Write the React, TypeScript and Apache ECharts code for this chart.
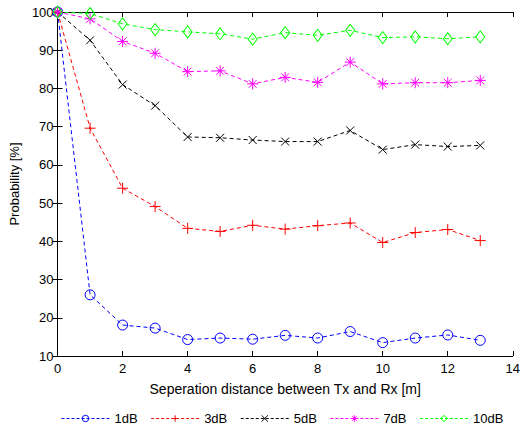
import React, { useEffect, useRef } from "react";
import * as echarts from "echarts";

const distances = [0, 1, 2, 3, 4, 5, 6, 7, 8, 9, 10, 11, 12, 13];
const seriesNames = ["1dB", "3dB", "5dB", "7dB", "10dB"];
const p1dB = [100, 26.0, 18.1, 17.3, 14.3, 14.7, 14.4, 15.4, 14.7, 16.4, 13.5, 14.7, 15.5, 14.1];
const p3dB = [100, 69.6, 53.9, 49.1, 43.4, 42.6, 44.2, 43.2, 44.1, 44.8, 39.7, 42.3, 43.1, 40.2];
const p5dB = [100, 92.6, 81.0, 75.5, 67.3, 67.1, 66.5, 66.1, 66.1, 69.0, 64.0, 65.3, 64.8, 65.1];
const p7dB = [100, 98.2, 92.3, 89.2, 84.4, 84.6, 81.2, 82.9, 81.6, 86.9, 81.2, 81.5, 81.5, 82.1];
const p10dB = [100, 99.6, 96.9, 95.4, 94.8, 94.3, 92.9, 94.6, 93.9, 95.2, 93.3, 93.5, 93.0, 93.5];

const colors = ["#0000ff", "#ff0000", "#000000", "#ff00ff", "#00ff00"];
const CIRCLE = "path://M10,5 A5,5 0 1 1 0,5 A5,5 0 1 1 10,5 Z";
const PLUS = "path://M5,0 L5,10 M0,5 L10,5";
const CROSS = "path://M1,1 L9,9 M9,1 L1,9";
const STAR = "path://M5,0 L5,10 M0,5 L10,5 M1.5,1.5 L8.5,8.5 M8.5,1.5 L1.5,8.5";
const DIAMOND = "path://M5,0 L10,7 L5,14 L0,7 Z";
const symbols = [CIRCLE, PLUS, CROSS, STAR, DIAMOND];
const symbolSizes: any[] = [10, 11, 8, 11, [9, 12]];

const FONT = "'Liberation Sans', Arial, sans-serif";

export default function App() {
  const ref = useRef<HTMLDivElement>(null);
  useEffect(() => {
    const chart = echarts.init(ref.current!, null, { renderer: "svg" });
    const all = [p1dB, p3dB, p5dB, p7dB, p10dB];
    const series = all.map((vals, i) => ({
      name: seriesNames[i],
      type: "line",
      data: distances.map((d, j) => [d, vals[j]]),
      symbol: symbols[i],
      symbolSize: symbolSizes[i],
      showAllSymbol: true,
      lineStyle: { color: colors[i], width: 1, type: [4, 3] },
      itemStyle: {
        color: i === 0 || i === 4 ? "rgba(255,255,255,0)" : colors[i],
        borderColor: colors[i],
        borderWidth: 1,
      },
      emphasis: { disabled: true },
    }));
    const tickStyle = { inside: true, length: 5, lineStyle: { color: "#000" } };
    chart.setOption({
      animation: false,
      backgroundColor: "#ffffff",
      textStyle: { fontFamily: FONT },
      grid: { left: 57, right: 6, top: 12, bottom: 69, containLabel: false },
      legend: {
        data: seriesNames,
        left: 56,
        top: 407,
        itemWidth: 48,
        itemHeight: 8,
        itemGap: 13,
        lineStyle: { width: 1, type: [3, 2] },
        itemStyle: { borderWidth: 1 },
        textStyle: { fontFamily: FONT, fontSize: 13, color: "#000" },
      },
      xAxis: [
        {
          type: "value",
          min: 0,
          max: 14,
          interval: 2,
          position: "bottom",
          name: "Seperation distance between Tx and Rx [m]",
          nameLocation: "middle",
          nameGap: 26,
          nameTextStyle: { fontFamily: FONT, fontSize: 14, color: "#000" },
          axisLine: { lineStyle: { color: "#000" } },
          axisTick: tickStyle,
          axisLabel: { fontFamily: FONT, fontSize: 13, color: "#000", margin: 6 },
          splitLine: { show: false },
        },
        {
          type: "value",
          min: 0,
          max: 14,
          interval: 2,
          position: "top",
          axisLine: { lineStyle: { color: "#000" } },
          axisTick: tickStyle,
          axisLabel: { show: false },
          splitLine: { show: false },
        },
      ],
      yAxis: [
        {
          type: "value",
          min: 10,
          max: 100,
          interval: 10,
          position: "left",
          name: "Probability [%]",
          nameLocation: "middle",
          nameGap: 36,
          nameTextStyle: { fontFamily: FONT, fontSize: 13, color: "#000" },
          axisLine: { show: true, lineStyle: { color: "#000" } },
          axisTick: tickStyle,
          axisLabel: { fontFamily: FONT, fontSize: 13, color: "#000", margin: 4 },
          splitLine: { show: false },
        },
        {
          type: "value",
          min: 10,
          max: 100,
          interval: 10,
          position: "right",
          axisLine: { show: true, lineStyle: { color: "#000" } },
          axisTick: tickStyle,
          axisLabel: { show: false },
          splitLine: { show: false },
        },
      ],
      series,
    });
    return () => chart.dispose();
  }, []);
  return <div ref={ref} style={{ width: 523, height: 425, position: "absolute", left: 0, top: 0 }} />;
}
